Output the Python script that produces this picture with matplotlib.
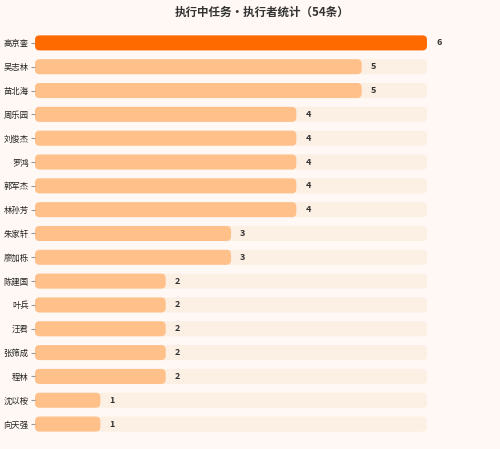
import matplotlib.pyplot as plt
from matplotlib.patches import FancyBboxPatch

plt.rcParams['font.family'] = ['Noto Sans CJK SC', 'DejaVu Sans']

# data
names = ['高京銮', '吴志林', '苗北海', '周乐园', '刘俊杰', '罗鸿', '郭军杰', '林孙芳',
         '朱家轩', '廖加栎', '陈建国', '叶兵', '汪君', '张筛成', '程林', '沈以桉', '向天强']
counts = [6, 5, 5, 4, 4, 4, 4, 4, 3, 3, 2, 2, 2, 2, 2, 1, 1]
title = '执行中任务・执行者统计（54条）'

bg = '#fff8f4'
track_color = '#fcefe4'
bar_color = '#ffc08a'
top_color = '#ff6a00'

fig = plt.figure(figsize=(5, 4.49), dpi=100, facecolor=bg)
ax = fig.add_axes([0.07, 0.029, 0.784, 0.902])
ax.set_facecolor(bg)

xmax = max(counts)
ax.set_xlim(0, xmax)
ax.set_ylim(len(names) - 0.5, -0.5)

h = 0.63
# x units per px vs y units per px for round corners
aspect = (1 / 23.8) / (xmax / 392)
r = 0.07

for i, (n, c) in enumerate(zip(names, counts)):
    ax.add_patch(FancyBboxPatch((0, i - h / 2), xmax, h,
                                boxstyle=f'round,pad=0,rounding_size={r}',
                                mutation_aspect=aspect, fc=track_color, ec='none'))
    col = top_color if i == 0 else bar_color
    ax.add_patch(FancyBboxPatch((0, i - h / 2), c, h,
                                boxstyle=f'round,pad=0,rounding_size={r}',
                                mutation_aspect=aspect, fc=col, ec='none'))
    ax.text(c + 0.14, i, str(c), va='center', ha='left', fontsize=6.5,
            fontweight='bold', color='#333333')

ax.set_yticks(range(len(names)))
ax.set_yticklabels(names, fontsize=6, color='#222222')
ax.tick_params(axis='y', length=3, width=0.8, color='#999999', pad=1.5)
ax.set_xticks([])
for s in ax.spines.values():
    s.set_visible(False)

fig.text(0.525, 0.973, title, ha='center', va='center', fontsize=8.3,
         fontweight='bold', color='#333333')

fig.savefig('out.png', dpi=100, facecolor=bg)
